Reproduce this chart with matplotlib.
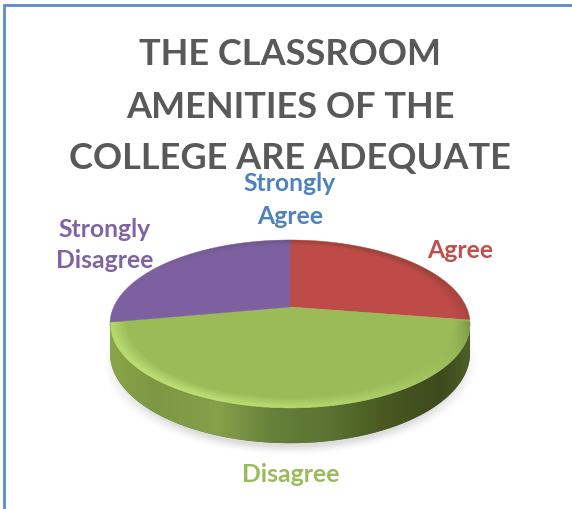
import numpy as np
from matplotlib import pyplot as plt
from matplotlib.colors import LinearSegmentedColormap

categories = ["Strongly Agree", "Agree", "Disagree", "Strongly Disagree"]
values = [0, 27.5, 44.6, 27.9]
colors = ["#4F81BD", "#BE4B48", "#9BBB59", "#7D60A0"]
label_colors = ["#4F81BD", "#C0504D", "#9BBB59", "#8064A2"]
title_lines = ["THE CLASSROOM", "AMENITIES OF THE", "COLLEGE ARE ADEQUATE"]

# Pie geometry in picture pixels
CX, CY = 290, 307
R, S, K = 176.3, 80.6, 0.2024
DEPTH = 28


# Perspective map from the unit disc to picture pixels
def project(x, y, drop=0):
    w = 1 + K * y
    return CX + R * x / w, CY - (S * y - drop) / w


def unproject(px, py):
    yy = CY - py
    y = yy / (S - K * yy)
    x = (px - CX) * (1 + K * y) / R
    return x, y


fig = plt.figure(figsize=(5.72, 5.09), dpi=100)
ax = fig.add_axes([0, 0, 1, 1])
ax.set_xlim(0, 572)
ax.set_ylim(509, 0)
ax.axis("off")

# Outer frame, only top and left show in the crop
ax.plot([4, 4, 572], [509, 5, 5], color="#5B8CCB", lw=2, solid_joinstyle="miter", zorder=1)

px, py = np.meshgrid(np.arange(0, 572, 0.5), np.arange(0, 509, 0.5))
extent = (0, 572, 509, 0)

# Soft shadow under the pie
dist = np.hypot((px - 290) / 188, (py - 363) / 92)
shadow = np.zeros(px.shape + (4,))
shadow[..., :3] = 0.55
shadow[..., 3] = 0.3 * np.clip((1 - dist) / 0.1, 0, 1) ** 1.5
ax.imshow(shadow, extent=extent, zorder=2, aspect="auto", interpolation="bilinear")

# Side wall, gradient clipped to the extruded rim
start = np.arcsin(K)
t = np.linspace(np.pi + start, 2 * np.pi - start, 200)
x0, y0 = project(np.cos(t), np.sin(t))
x1, y1 = project(np.cos(t), np.sin(t), DEPTH)
side_poly = ax.fill(
    np.r_[x0, x1[::-1]], np.r_[y0, y1[::-1]], color="#5f7a35", zorder=3, lw=0
)[0]
side_cmap = LinearSegmentedColormap.from_list(
    "side",
    [
        (0.00, "#8aa548"),
        (0.12, "#7c9843"),
        (0.30, "#86a04a"),
        (0.45, "#66813a"),
        (0.60, "#5b7433"),
        (0.78, "#47571f"),
        (0.92, "#3d4a1e"),
        (1.00, "#4d5f28"),
    ],
)
grad = np.linspace(0, 1, 400)[None, :]
side_img = ax.imshow(
    grad, extent=(110, 471, 509, 0), cmap=side_cmap, zorder=3.1, aspect="auto"
)
side_img.set_clip_path(side_poly)
ax.set_xlim(0, 572)
ax.set_ylim(509, 0)

# Top surface slices, clockwise from twelve o'clock
angle = 90.0
total = sum(values)
for value, color in zip(values, colors):
    sweep = 360.0 * value / total
    if sweep > 0:
        th = np.radians(np.linspace(angle, angle - sweep, 120))
        xs = np.r_[0, np.cos(th)]
        ys = np.r_[0, np.sin(th)]
        qx, qy = project(xs, ys)
        ax.fill(qx, qy, color=color, lw=0.3, ec=color, zorder=4)
    angle -= sweep

# Bevel on the rim of the top surface, light only on the front slice
ux, uy = unproject(px, py)
rho = np.hypot(ux, uy)
phi = np.arctan2(uy, ux)
band = np.clip((rho - 0.91) / 0.08, 0, 1) * (rho <= 1.0)
shade = np.cos(phi - np.radians(-125)) * band
shade = np.where(uy > -0.17, np.minimum(shade, 0) * 0.4, shade)
overlay = np.zeros(px.shape + (4,))
overlay[..., :3] = np.where(shade[..., None] > 0, [0.85, 1.0, 0.55], [0.1, 0.14, 0.02])
overlay[..., 3] = np.clip(np.abs(shade) * 0.55, 0, 1)
ax.imshow(overlay, extent=extent, zorder=5, aspect="auto", interpolation="bilinear")
ax.set_xlim(0, 572)
ax.set_ylim(509, 0)

# Title
for line, y in zip(title_lines, [54, 107, 159]):
    ax.text(290, y, line, ha="center", va="center", fontsize=26, fontweight="bold",
            family="Lato", color="#595959", zorder=6)

# Slice labels
ax.text(290, 200, "Strongly\nAgree", ha="center", va="center", fontsize=17.8, fontweight="bold",
        family="Lato", color=label_colors[0], linespacing=1.53, zorder=6)
ax.text(460, 251, "Agree", ha="center", va="center", fontsize=17.8, fontweight="bold",
        family="Lato", color=label_colors[1], zorder=6)
ax.text(291, 474, "Disagree", ha="center", va="center", fontsize=17.8, fontweight="bold",
        family="Lato", color=label_colors[2], zorder=6)
ax.text(105, 245, "Strongly\nDisagree", ha="center", va="center", fontsize=17.8, fontweight="bold",
        family="Lato", color=label_colors[3], linespacing=1.45, zorder=6)

fig.savefig("out.png", dpi=100)
